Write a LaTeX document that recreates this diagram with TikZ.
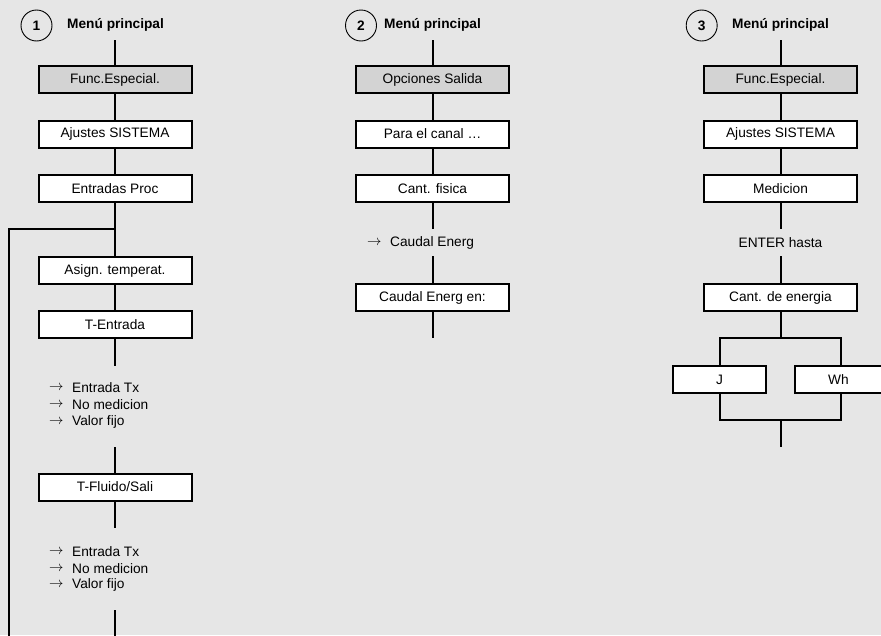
\documentclass[tikz,border=0pt]{standalone}
\usepackage{fontspec}
\setmainfont{Liberation Sans}
\definecolor{bgc}{RGB}{230,230,230}
\definecolor{boxgray}{RGB}{211,211,211}
\newcommand{\myarrow}{$\rightarrow$}
\begin{document}
\begin{tikzpicture}[x=1pt,y=-1pt,
  font=\fontsize{13.7}{16}\selectfont,
  ln/.style={line width=2pt},
  menubox/.style={draw, line width=2pt, fill=white, rectangle, minimum width=153pt, minimum height=27pt, inner sep=0pt},
  graybox/.style={menubox, fill=boxgray},
  numcirc/.style={draw, circle, line width=0.9pt, minimum size=31pt, inner sep=0pt, font=\fontsize{13.7}{16}\selectfont\bfseries},
  head/.style={anchor=west, inner sep=0pt, font=\fontsize{13.7}{16}\selectfont\bfseries},
  txt/.style={anchor=west, inner sep=0pt},
  arr/.style={anchor=west, inner sep=0pt}
]
\fill[bgc] (0,0) rectangle (881,635);
\useasboundingbox (0,0) rectangle (881,635);

% ---------- Column 1 ----------
\node[numcirc] (n1) at (36.5,25.5) {1};
\node[head] (h1) at (67,25) {Menú principal};
\coordinate (t1) at (115,40);
\node[graybox] (f1) at (115,79.5) {Func.Especial.};
\node[menubox] (a1) at (115,134) {Ajustes SISTEMA};
\node[menubox] (e1) at (115,188.5) {Entradas Proc};
\coordinate (j1) at (115,229);
\coordinate (l1) at (9,229);
\coordinate (l1b) at (9,636);
\node[menubox] (as1) at (115,270.5) {Asign. temperat.};
\node[menubox] (te1) at (115,324.5) {T-Entrada};
\coordinate (te1e) at (115,366);
\node[arr] (r1a) at (49,388) {\myarrow};
\node[txt] (x1a) at (72,388) {Entrada Tx};
\node[arr] (r1b) at (49,405) {\myarrow};
\node[txt] (x1b) at (72,405) {No medicion};
\node[arr] (r1c) at (49,422) {\myarrow};
\node[txt] (x1c) at (72,422) {Valor fijo};
\coordinate (tf1s) at (115,447);
\node[menubox] (tf1) at (115,487) {T-Fluido/Sali};
\coordinate (tf1e) at (115,528);
\node[arr] (r2a) at (49,552) {\myarrow};
\node[txt] (x2a) at (72,552) {Entrada Tx};
\node[arr] (r2b) at (49,568.5) {\myarrow};
\node[txt] (x2b) at (72,568.5) {No medicion};
\node[arr] (r2c) at (49,585) {\myarrow};
\node[txt] (x2c) at (72,585) {Valor fijo};
\coordinate (b1s) at (115,610);
\coordinate (b1e) at (115,636);

\draw[ln] (t1) -- (f1.north);
\draw[ln] (f1.south) -- (a1.north);
\draw[ln] (a1.south) -- (e1.north);
\draw[ln] (e1.south) -- (j1) -- (as1.north);
\draw[ln] (j1) -- (l1) -- (l1b);
\draw[ln] (as1.south) -- (te1.north);
\draw[ln] (te1.south) -- (te1e);
\draw[ln] (tf1s) -- (tf1.north);
\draw[ln] (tf1.south) -- (tf1e);
\draw[ln] (b1s) -- (b1e);

% ---------- Column 2 ----------
\node[numcirc] (n2) at (361,25.5) {2};
\node[head] (h2) at (384,25) {Menú principal};
\coordinate (t2) at (432.5,40);
\node[graybox] (o2) at (432.5,79.5) {Opciones Salida};
\node[menubox] (p2) at (432.5,134) {Para el canal …};
\node[menubox] (c2) at (432.5,188.5) {Cant. fisica};
\coordinate (c2e) at (432.5,229);
\node[arr] (r3) at (367,243) {\myarrow};
\node[txt] (x3) at (390,243) {Caudal Energ};
\coordinate (ce2s) at (432.5,256);
\node[menubox] (ce2) at (432.5,297.5) {Caudal Energ en:};
\coordinate (ce2e) at (432.5,338);

\draw[ln] (t2) -- (o2.north);
\draw[ln] (o2.south) -- (p2.north);
\draw[ln] (p2.south) -- (c2.north);
\draw[ln] (c2.south) -- (c2e);
\draw[ln] (ce2s) -- (ce2.north);
\draw[ln] (ce2.south) -- (ce2e);

% ---------- Column 3 ----------
\node[numcirc] (n3) at (701.7,25.5) {3};
\node[head] (h3) at (732,25) {Menú principal};
\coordinate (t3) at (780.5,40);
\node[graybox] (f3) at (780.5,79.5) {Func.Especial.};
\node[menubox] (a3) at (780.5,134) {Ajustes SISTEMA};
\node[menubox] (m3) at (780.5,188.5) {Medicion};
\coordinate (m3e) at (780.5,229);
\node[inner sep=0pt] (en3) at (780.5,243) {ENTER hasta};
\coordinate (cd3s) at (780.5,256);
\node[menubox] (cd3) at (780.5,297.5) {Cant. de energia};
\coordinate (s3) at (780.5,338);
\coordinate (sl) at (720,338);
\coordinate (sr) at (841,338);
\node[menubox, minimum width=93pt] (j3) at (719.5,379.5) {J};
\node[menubox, minimum width=87pt] (wh3) at (838.5,379.5) {Wh};
\coordinate (jb) at (720,393);
\coordinate (whb) at (841,393);
\coordinate (ml) at (720,420);
\coordinate (mr) at (841,420);
\coordinate (m3b) at (780.5,420);
\coordinate (end3) at (780.5,447);
\coordinate (jt) at (720,366);
\coordinate (wht) at (841,366);

\draw[ln] (t3) -- (f3.north);
\draw[ln] (f3.south) -- (a3.north);
\draw[ln] (a3.south) -- (m3.north);
\draw[ln] (m3.south) -- (m3e);
\draw[ln] (cd3s) -- (cd3.north);
\draw[ln] (cd3.south) -- (s3);
\draw[ln] (jt) -- (sl) -- (sr) -- (wht);
\draw[ln] (jb) -- (ml) -- (mr) -- (whb);
\draw[ln] (m3b) -- (end3);
\end{tikzpicture}
\end{document}
